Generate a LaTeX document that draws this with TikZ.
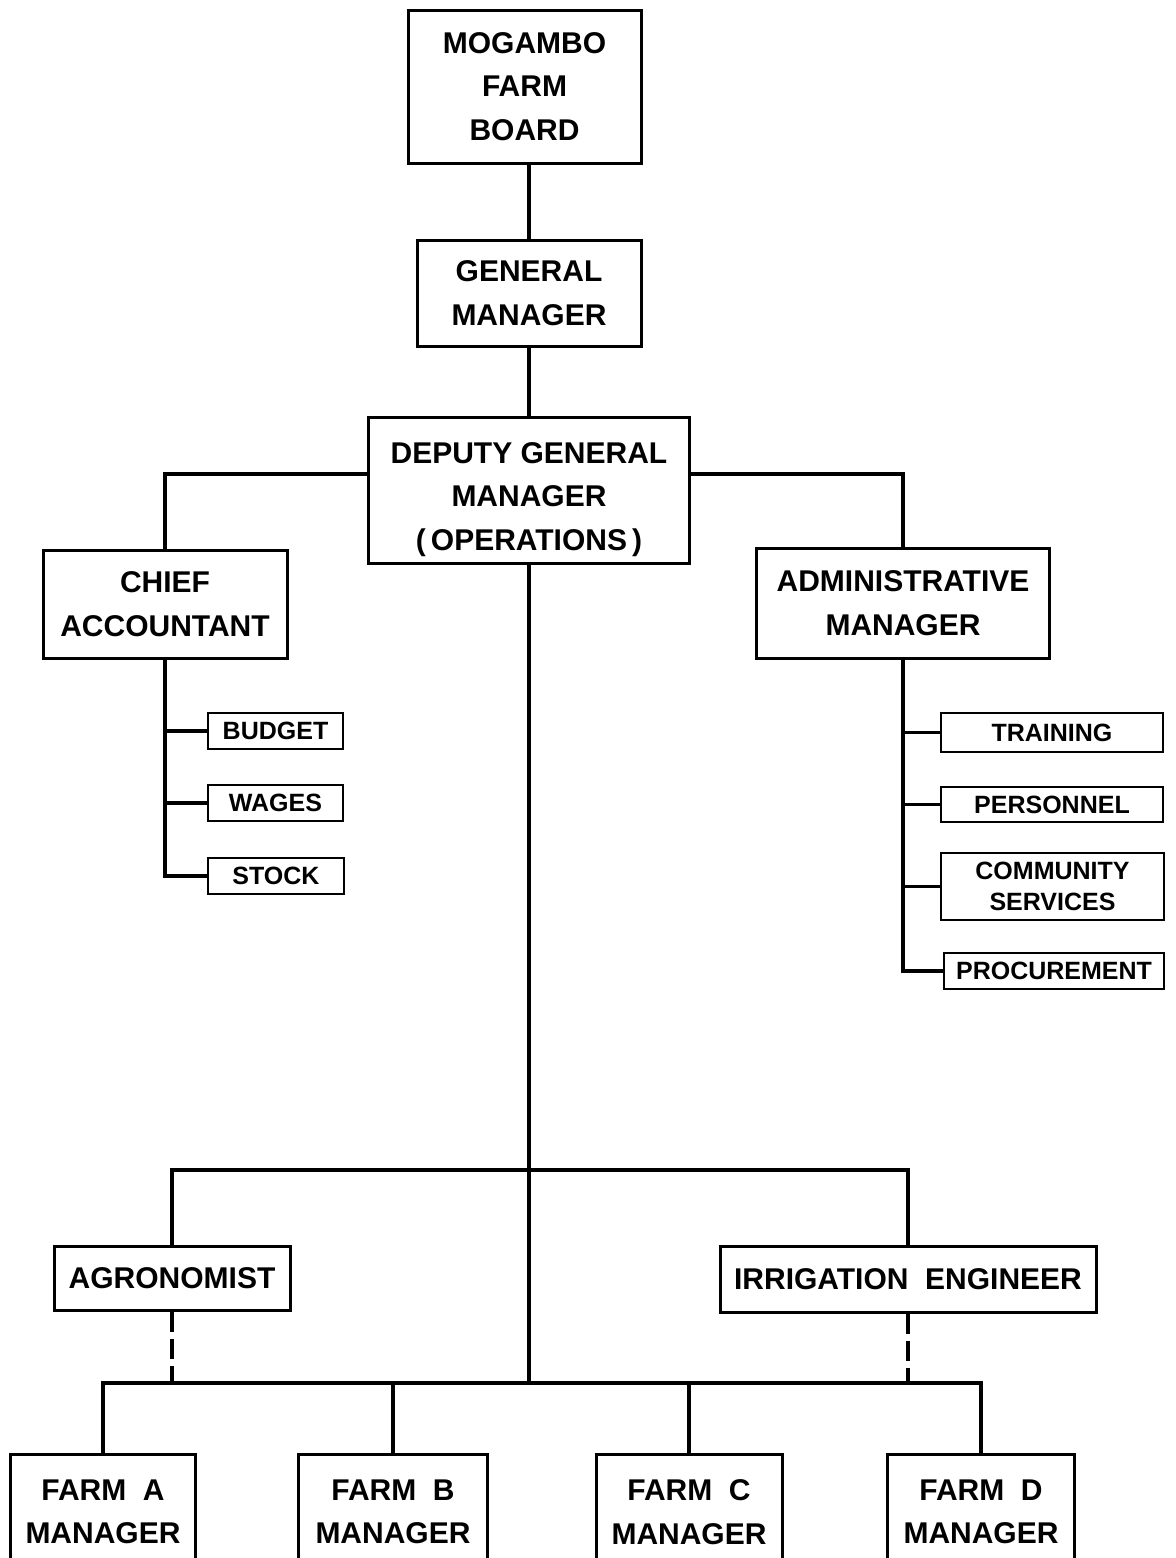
\documentclass[tikz,border=0pt]{standalone}
\usepackage{fontspec}
\setmainfont{Liberation Sans}
\usepackage{tikz}

\begin{document}
\begin{tikzpicture}[x=0.5pt,y=-0.5pt,
		box/.style={draw,line width=1.5pt,align=center,inner sep=0pt,font=\fontsize{15}{21.75}\selectfont\bfseries},
		subbox/.style={draw,line width=1.3pt,align=center,inner sep=0pt,font=\fontsize{12.5}{15.5}\selectfont\bfseries},
		link/.style={line width=1.6pt},
		staff/.style={line width=1.6pt,dash pattern=on 10pt off 3.5pt}]
		\useasboundingbox (0,0) rectangle (1175,1558);
		\clip (0,0) rectangle (1175,1558);
		\node[box,minimum width=116.5pt,minimum height=76.5pt] (board) at (524.5,86.5) {MOGAMBO\\FARM\\BOARD};
		\node[box,minimum width=112pt,minimum height=53pt] (gm) at (529,293) {GENERAL\\MANAGER};
		\node[box,minimum width=160.5pt,minimum height=73pt] (dgm) at (529,490) {\rule{0pt}{20pt}DEPUTY GENERAL\\MANAGER\\(\,OPERATIONS\,)};
		\node[box,minimum width=122pt,minimum height=54pt] (chief) at (165,604) {CHIEF\\ACCOUNTANT};
		\node[box,minimum width=146.5pt,minimum height=55pt] (admin) at (903,603) {ADMINISTRATIVE\\MANAGER};
		\node[subbox,minimum width=67.5pt,minimum height=18pt] (budget) at (275.5,731) {BUDGET};
		\node[subbox,minimum width=67.5pt,minimum height=18pt] (wages) at (275.5,803) {WAGES};
		\node[subbox,minimum width=68pt,minimum height=18pt] (stock) at (276,876) {STOCK};
		\node[subbox,minimum width=111pt,minimum height=19.5pt] (training) at (1052,732.5) {TRAINING};
		\node[subbox,minimum width=111pt,minimum height=17.5pt] (personnel) at (1052,804.5) {PERSONNEL};
		\node[subbox,minimum width=111.5pt,minimum height=33.5pt] (community) at (1052.5,886.5) {COMMUNITY\\SERVICES};
		\node[subbox,minimum width=110pt,minimum height=18pt] (procurement) at (1054,971) {PROCUREMENT};
		\node[box,minimum width=118pt,minimum height=32pt] (agr) at (172,1278) {AGRONOMIST};
		\node[box,minimum width=188pt,minimum height=33pt] (irr) at (908,1279) {IRRIGATION\ \ ENGINEER};
		\node[box,minimum width=92.5pt,minimum height=57.5pt] (farmA) at (103,1512) {FARM\ \ A\\MANAGER};
		\node[box,minimum width=94.5pt,minimum height=57.5pt] (farmB) at (393,1512) {FARM\ \ B\\MANAGER};
		\node[box,minimum width=93pt,minimum height=57.5pt] (farmC) at (689,1512) {FARM\ \ C\\MANAGER};
		\node[box,minimum width=93.5pt,minimum height=57.5pt] (farmD) at (981,1512) {FARM\ \ D\\MANAGER};
		\coordinate (fork) at (529,1170);
		\coordinate (bus) at (529,1383);
		\draw[link] (gm.north) -- (gm.north |- board.south);
		\draw[link] (gm.south) -- (dgm.north);
		\draw[link] ([yshift=8pt]dgm.west) -| (chief.north);
		\draw[link] ([yshift=8pt]dgm.east) -| (admin.north);
		\draw[link] (chief.south) |- (stock.west);
		\foreach \s in {budget,wages}
			\draw[link] (\s.west) -- (\s.west -| chief.south);
		\draw[link] (admin.south) |- (procurement.west);
		\foreach \s in {training,personnel,community}
			\draw[link] (\s.west) -- (\s.west -| admin.south);
		\draw[link] (dgm.south) -- (bus);
		\draw[link] (agr.north) |- (fork) -| (irr.north);
		\draw[staff] (agr.south) -- (agr.south |- bus);
		\draw[staff] (irr.south) -- (irr.south |- bus);
		\draw[link] (farmA.north) |- (bus) -| (farmD.north);
		\foreach \s in {farmB,farmC}
			\draw[link] (\s.north) -- (\s.north |- bus);
	\end{tikzpicture}
\end{document}
